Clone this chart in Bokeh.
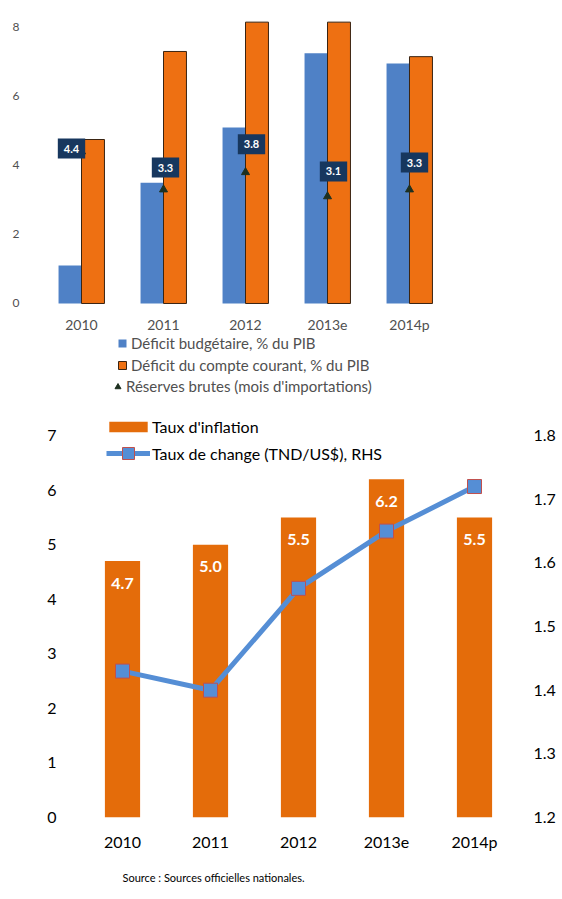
from bokeh.plotting import figure
from bokeh.models import (ColumnDataSource, FactorRange, Range1d, LinearAxis, Legend,
                          LegendItem, LabelSet, Title)
from bokeh.core.properties import value
from bokeh.transform import dodge
from bokeh.embed import file_html
from bokeh.resources import INLINE

# ---------------- data ----------------
years = ["2010", "2011", "2012", "2013e", "2014p"]
deficit_budget = [1.1, 3.5, 5.1, 7.25, 6.95]
deficit_courant = [4.75, 7.3, 8.15, 8.15, 7.15]
reserves = [4.4, 3.3, 3.8, 3.1, 3.3]
reserve_lbl_dx = [-10, 2, 6, 6, 5]
reserve_lbl_dy = [-3, -22, -28, -25, -27]

inflation = [4.7, 5.0, 5.5, 6.2, 5.5]
taux_change = [1.43, 1.40, 1.56, 1.65, 1.72]

top_yticks = [0, 2, 4, 6, 8]
bot_yticks = [0, 1, 2, 3, 4, 5, 6, 7]
rhs_ticks = [1.2, 1.3, 1.4, 1.5, 1.6, 1.7, 1.8]

FONT = "Lato"
BLUE = "#4F81C6"
ORANGE = "#EE7012"
NAVY = "#17375E"

# ---------------- top chart ----------------
src1 = ColumnDataSource(dict(
    years=years, budget=deficit_budget, courant=deficit_courant, reserves=reserves,
    rtxt=[f"{v:.1f}" for v in reserves], dx=reserve_lbl_dx, dy=reserve_lbl_dy))

p1 = figure(x_range=FactorRange(*years), y_range=Range1d(-2.81, 8.4), width=562, height=400,
            output_backend="svg", toolbar_location=None,
            min_border_left=40, min_border_right=112, min_border_top=13, min_border_bottom=0)
p1.outline_line_color = None
p1.grid.grid_line_color = None
for ax in [p1.xaxis[0], p1.yaxis[0]]:
    ax.axis_line_color = None
    ax.major_tick_line_color = None
    ax.minor_tick_line_color = None
    ax.major_tick_out = 0
    ax.major_tick_in = 0
    ax.major_label_text_font = FONT
    ax.major_label_text_color = "#505050"
p1.xaxis.fixed_location = 0
p1.yaxis.ticker = top_yticks
p1.xaxis.major_label_text_font_size = "14px"
p1.yaxis.major_label_text_font_size = "12px"
p1.xaxis.major_label_standoff = 13
p1.yaxis.major_label_standoff = 21

r_b = p1.vbar(x=dodge("years", -0.14, range=p1.x_range), top="budget", width=0.28,
              source=src1, fill_color=BLUE, line_color=None)
r_c = p1.vbar(x=dodge("years", 0.14, range=p1.x_range), top="courant", width=0.28,
              source=src1, fill_color=ORANGE, line_color="#3a2412", line_width=1)
r_r = p1.scatter(x="years", y="reserves", source=src1, marker="triangle", size=8,
                 fill_color="#1E3020", line_color="#1E3020")

p1.text(x="years", y="reserves", text="rtxt", source=src1,
        x_offset="dx", y_offset="dy", text_align="center", text_baseline="middle",
        text_color="white", text_font=value(FONT), text_font_style="bold",
        text_font_size="11px", background_fill_color=NAVY, padding=6)

leg1 = Legend(items=[LegendItem(label="Déficit budgétaire, % du PIB", renderers=[r_b]),
                     LegendItem(label="Déficit du compte courant, % du PIB", renderers=[r_c])],
              location=(77, 26), glyph_width=10, glyph_height=10, label_height=18,
              spacing=4, padding=0, margin=0, label_standoff=4,
              label_text_font=FONT, label_text_font_size="15px", label_text_color="#505050",
              border_line_color=None, background_fill_alpha=0)
leg1b = Legend(items=[LegendItem(label="Réserves brutes (mois d'importations)", renderers=[r_r])],
               location=(70, 5), glyph_width=15, glyph_height=15, label_height=18,
               spacing=0, padding=0, margin=0, label_standoff=1,
               label_text_font=FONT, label_text_font_size="15px", label_text_color="#505050",
               border_line_color=None, background_fill_alpha=0)
p1.add_layout(leg1)
p1.add_layout(leg1b)

# ---------------- bottom chart ----------------
Y_TOP = 7.35
src2 = ColumnDataSource(dict(years=years, infl=inflation, itxt=[f"{v:.1f}" for v in inflation],
                             fx=taux_change))

p2 = figure(x_range=FactorRange(*years), y_range=Range1d(0, Y_TOP), width=562, height=499,
            output_backend="svg", toolbar_location=None,
            min_border_left=78, min_border_right=44, min_border_top=16, min_border_bottom=82)
p2.extra_y_ranges = {"rhs": Range1d(1.2, 1.2 + Y_TOP * 0.6 / 7)}
p2.outline_line_color = None
p2.grid.grid_line_color = None
rax = LinearAxis(y_range_name="rhs", ticker=rhs_ticks)
p2.add_layout(rax, "right")
for ax in [p2.xaxis[0], p2.yaxis[0], rax]:
    ax.axis_line_color = None
    ax.major_tick_line_color = None
    ax.minor_tick_line_color = None
    ax.major_tick_out = 0
    ax.major_tick_in = 0
    ax.major_label_text_font = FONT
    ax.major_label_text_font_size = "16px"
    ax.major_label_text_color = "#000000"
p2.yaxis[0].ticker = bot_yticks
p2.yaxis[0].major_label_standoff = 22
rax.major_label_standoff = 15
p2.xaxis.major_label_standoff = 14

r_i = p2.vbar(x="years", top="infl", width=0.4, source=src2, fill_color="#E46C0A",
              line_color=None)
lbl2 = LabelSet(x="years", y="infl", text="itxt", source=src2, y_offset=-22,
                text_align="center", text_baseline="middle", text_color="white",
                text_font=value(FONT), text_font_style="bold", text_font_size="16px")
p2.add_layout(lbl2)

r_l = p2.line(x="years", y="fx", source=src2, y_range_name="rhs", line_width=5,
              line_color="#558ED5")
r_m = p2.scatter(x="years", y="fx", source=src2, y_range_name="rhs", marker="square",
                 size=14, fill_color="#558ED5", line_color="#C0504D", line_width=1)

leg2 = Legend(items=[LegendItem(label="Taux d'inflation", renderers=[r_i])],
              location=(26, 381), glyph_width=48, glyph_height=13, label_height=18,
              padding=0, margin=0, label_standoff=0,
              label_text_font=FONT, label_text_font_size="16px", label_text_color="#000000",
              border_line_color=None, background_fill_alpha=0)
leg3 = Legend(items=[LegendItem(label="Taux de change (TND/US$), RHS", renderers=[r_l, r_m])],
              location=(28, 349), glyph_width=44, glyph_height=30, label_height=18,
              padding=0, margin=0, label_standoff=2,
              label_text_font=FONT, label_text_font_size="16px", label_text_color="#000000",
              border_line_color=None, background_fill_alpha=0)
p2.add_layout(leg2)
p2.add_layout(leg3)

src_title = Title(text="Source : Sources officielles nationales.", align="left", offset=44,
                  text_font=FONT, text_font_size="11px", text_font_style="normal",
                  text_color="#000000", standoff=31)
p2.add_layout(src_title, "below")

open("out.html", "w").write(file_html([p1, p2], INLINE))
